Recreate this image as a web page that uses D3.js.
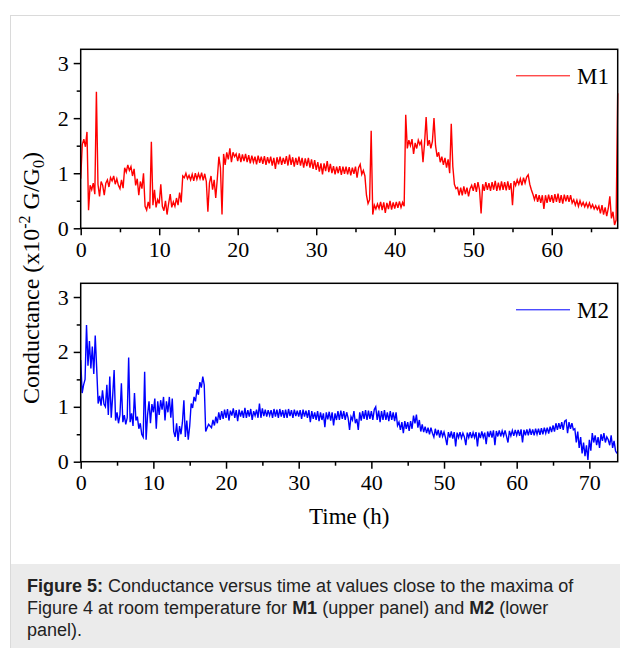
<!DOCTYPE html>
<html>
<head>
<meta charset="utf-8">
<script src="https://cdn.jsdelivr.net/npm/d3@7"></script>
<style>
  body { margin: 0; background: #fff; }
  svg { display: block; }
</style>
</head>
<body>
<svg id="fig"></svg>
<script>
// sampling interval of both recordings (hours)
var dt = 0.2;

// M1, upper panel (x10^-2 G/G0), one value every 0.2 h from t = 0
var m1Values = [
  0.9, 1.52, 1.62, 1.48, 1.75, 0.33, 0.78, 0.7, 0.82, 0.62,
  2.48, 0.8, 0.58, 0.85, 0.78, 0.6, 0.82, 0.88, 0.75, 0.92,
  0.86, 0.95, 0.8, 0.9, 0.78, 0.72, 0.88, 0.73, 1.1, 1.02,
  1.15, 1.05, 1.12, 0.95, 1.08, 0.78, 0.9, 0.6, 0.85, 0.72,
  1.0, 0.4, 0.33, 0.48, 0.36, 1.57, 0.42, 0.7, 0.38, 0.52,
  0.45, 0.8, 0.4, 0.32, 0.5, 0.25, 0.45, 0.62, 0.38, 0.48,
  0.4, 0.55, 0.42, 0.65, 0.47, 0.95, 0.92, 1.0, 0.9, 0.96,
  0.88, 0.98, 0.86, 1.0, 0.89, 0.99, 0.9, 1.01, 0.87, 0.99,
  0.85, 0.3, 0.82, 0.95, 0.7, 0.88, 0.55, 0.9, 1.3, 1.1,
  0.25, 1.35, 1.15, 1.38, 1.25, 1.45, 1.2, 1.38, 1.3, 1.35,
  1.22, 1.36, 1.2, 1.34, 1.22, 1.35, 1.2, 1.33, 1.18, 1.32,
  1.2, 1.3, 1.16, 1.32, 1.19, 1.3, 1.17, 1.31, 1.15, 1.29,
  1.18, 1.3, 1.14, 1.28, 1.08, 1.29, 1.16, 1.3, 1.15, 1.28,
  1.17, 1.31, 1.14, 1.34, 1.15, 1.29, 1.12, 1.28, 1.15, 1.3,
  1.14, 1.28, 1.1, 1.27, 1.13, 1.28, 1.1, 1.25, 1.08, 1.24,
  1.06, 1.2, 1.03, 1.18, 0.98, 1.18, 1.04, 1.22, 1.02, 1.17,
  1.0, 1.13, 0.98, 1.12, 1.0, 1.13, 0.97, 1.12, 0.99, 1.12,
  0.98, 1.11, 0.96, 1.1, 0.99, 1.12, 0.92, 1.1, 1.16, 0.98,
  1.05, 0.95, 0.6, 0.45, 0.52, 1.77, 0.25, 0.42, 0.35, 0.44,
  0.36, 0.48, 0.33, 0.47, 0.28, 0.46, 0.35, 0.5, 0.34, 0.47,
  0.36, 0.48, 0.37, 0.49, 0.38, 0.47, 0.4, 2.06, 1.45, 1.6,
  1.5, 1.62, 1.35, 1.55, 1.45, 1.6, 1.52, 1.58, 1.2, 1.55,
  2.02, 1.5, 1.6, 1.45, 1.58, 2.0, 1.5, 1.3, 1.38, 1.2,
  1.3, 1.15, 1.28, 1.1, 1.25, 1.0, 1.9, 1.12, 0.8, 0.72,
  0.74, 0.6, 0.74, 0.6, 0.76, 0.62, 0.74, 0.58, 0.72, 0.78,
  0.68, 0.82, 0.66, 0.84, 0.7, 0.27, 0.8, 0.68, 0.84, 0.7,
  0.82, 0.68, 0.84, 0.7, 0.86, 0.68, 0.83, 0.69, 0.85, 0.7,
  0.84, 0.69, 0.85, 0.7, 0.82, 0.42, 0.86, 0.78, 0.88, 0.8,
  0.9, 0.78, 0.92, 0.82, 0.93, 0.97, 0.8, 0.7, 0.62, 0.52,
  0.62, 0.48, 0.6, 0.46, 0.6, 0.35, 0.6, 0.46, 0.61, 0.48,
  0.6, 0.46, 0.62, 0.48, 0.63, 0.46, 0.6, 0.45, 0.61, 0.49,
  0.6, 0.48, 0.6, 0.46, 0.52, 0.42, 0.51, 0.4, 0.5, 0.41,
  0.47, 0.39, 0.46, 0.38, 0.46, 0.37, 0.43, 0.35, 0.41, 0.34,
  0.4, 0.27, 0.42, 0.25, 0.38, 0.22, 0.36, 0.58, 0.18, 0.3,
  0.06, 0.15, 2.45
];

// M2, lower panel
var m2Values = [
  1.85, 1.25, 1.4, 1.5, 2.49, 1.75, 2.2, 1.7, 2.1, 1.6,
  2.3, 1.7, 1.06, 1.2, 1.02, 1.3, 1.05, 1.0, 1.4, 0.85,
  1.55, 0.8, 1.2, 1.67, 0.75, 0.9, 0.7, 0.85, 1.43, 0.72,
  0.85, 0.68, 0.8, 1.9, 0.72, 0.88, 0.65, 1.25, 0.75, 0.82,
  0.6, 0.7, 0.5, 0.45, 1.64, 0.4, 0.85, 1.1, 0.7, 1.05,
  0.9, 1.15, 0.6, 1.1, 0.85, 1.12, 0.95, 1.18, 0.75, 1.1,
  0.9, 1.18, 0.8, 1.15, 0.55, 0.45, 0.7, 0.38, 0.65, 0.5,
  0.72, 1.12, 0.45, 0.75, 0.4, 0.65, 1.06, 0.98, 1.18, 1.1,
  1.32, 1.22, 1.45, 1.35, 1.55, 1.4, 0.55, 0.62, 0.68, 0.65,
  0.62, 0.76, 0.66, 0.82, 0.7, 0.9, 0.76, 0.92, 0.78, 0.95,
  0.8, 0.96, 0.75, 0.93, 0.84, 0.97, 0.8, 0.94, 0.74, 0.95,
  0.82, 0.93, 0.8, 0.98, 0.8, 0.94, 0.82, 0.96, 0.76, 0.92,
  0.84, 0.95, 0.8, 1.06, 0.8, 0.97, 0.83, 0.95, 0.82, 0.94,
  0.84, 0.94, 0.8, 0.96, 0.82, 0.95, 0.8, 0.96, 0.82, 0.94,
  0.8, 0.95, 0.8, 0.96, 0.83, 0.94, 0.8, 0.95, 0.83, 0.93,
  0.82, 0.94, 0.78, 0.95, 0.82, 0.93, 0.8, 0.94, 0.72, 0.92,
  0.78, 0.9, 0.76, 0.92, 0.74, 0.9, 0.76, 0.88, 0.63, 0.9,
  0.77, 0.91, 0.75, 0.9, 0.66, 0.88, 0.76, 0.92, 0.76, 0.93,
  0.78, 0.92, 0.76, 0.9, 0.8, 0.58, 0.82, 0.76, 0.92, 0.7,
  0.78, 0.58, 0.9, 0.75, 0.92, 0.78, 0.94, 0.76, 0.93, 0.78,
  0.92, 0.76, 0.95, 1.0, 0.76, 0.93, 0.72, 0.92, 0.76, 0.94,
  0.76, 0.9, 0.74, 0.92, 0.76, 0.9, 0.74, 0.9, 0.66, 0.72,
  0.58, 0.72, 0.52, 0.74, 0.6, 0.72, 0.56, 0.74, 0.6, 0.84,
  0.7, 0.86, 0.62, 0.76, 0.55, 0.68, 0.54, 0.64, 0.52, 0.62,
  0.5, 0.62, 0.52, 0.45, 0.6, 0.48, 0.58, 0.44, 0.57, 0.46,
  0.54, 0.44, 0.3, 0.54, 0.44, 0.55, 0.42, 0.54, 0.28, 0.53,
  0.44, 0.54, 0.43, 0.52, 0.45, 0.3, 0.53, 0.44, 0.54, 0.43,
  0.53, 0.44, 0.54, 0.28, 0.53, 0.43, 0.55, 0.44, 0.53, 0.32,
  0.55, 0.45, 0.56, 0.44, 0.57, 0.3, 0.56, 0.46, 0.57, 0.46,
  0.56, 0.47, 0.57, 0.46, 0.35, 0.56, 0.47, 0.57, 0.47, 0.58,
  0.48, 0.58, 0.47, 0.59, 0.35, 0.58, 0.48, 0.59, 0.48, 0.6,
  0.49, 0.59, 0.48, 0.6, 0.5, 0.6, 0.49, 0.61, 0.5, 0.62,
  0.52, 0.62, 0.51, 0.64, 0.54, 0.66, 0.55, 0.7, 0.58, 0.7,
  0.6, 0.72, 0.58, 0.74, 0.76, 0.52, 0.72, 0.6, 0.7, 0.58,
  0.6, 0.35, 0.55, 0.25, 0.45, 0.15, 0.35, 0.1, 0.3, 0.03,
  0.4, 0.2, 0.52, 0.35, 0.48, 0.3, 0.45, 0.25, 0.5, 0.38,
  0.52, 0.35, 0.45, 0.4, 0.3, 0.48, 0.25, 0.38, 0.2, 0.15
];

var m1Ticks = [0, 10, 20, 30, 40, 50, 60];
var m1Minor = [5, 15, 25, 35, 45, 55, 65];
var m2Ticks = [0, 10, 20, 30, 40, 50, 60, 70];
var m2Minor = [5, 15, 25, 35, 45, 55, 65];
var yTicks = [0, 1, 2, 3];
var yMinor = [0.5, 1.5, 2.5];

var width = 620, height = 648;
var left = 80.7, right = 617.7;
var serif = "'Liberation Serif', 'Times New Roman', serif";

var svg = d3.select("#fig").attr("width", width).attr("height", height);

// page frame + caption box
svg.append("rect").attr("x", 10.5).attr("y", 15.5).attr("width", 700).attr("height", 700)
    .attr("fill", "none").attr("stroke", "#dadada");
svg.append("rect").attr("x", 11).attr("y", 564).attr("width", 620).attr("height", 90)
    .attr("fill", "#ebebeb");

function drawPanel(values, xMax, ticks, minor, top, bottom, color, name) {
    var x = d3.scaleLinear().domain([0, xMax]).range([left, right]);
    var y = d3.scaleLinear().domain([0, 3.25]).range([bottom, top]);

    var g = svg.append("g");

    var line = d3.line()
        .x(function(d, i) { return x(i * dt); })
        .y(function(d) { return y(d); });

    g.append("path")
        .datum(values)
        .attr("d", line)
        .attr("fill", "none")
        .attr("stroke", color)
        .attr("stroke-width", 1.4)
        .attr("stroke-linejoin", "miter");

    // x axis
    g.append("g").attr("transform", "translate(0," + bottom + ")")
        .call(d3.axisBottom(x).tickValues(ticks).tickSize(7).tickPadding(6));
    g.append("g").attr("transform", "translate(0," + bottom + ")")
        .call(d3.axisBottom(x).tickValues(minor).tickSize(4).tickFormat(""));
    // y axis
    g.append("g").attr("transform", "translate(" + left + ",0)")
        .call(d3.axisLeft(y).tickValues(yTicks).tickSize(7).tickPadding(5)
            .tickFormat(d3.format("d")));
    g.append("g").attr("transform", "translate(" + left + ",0)")
        .call(d3.axisLeft(y).tickValues(yMinor).tickSize(4).tickFormat(""));

    g.selectAll(".domain").remove();
    g.selectAll(".tick line").attr("stroke", "#000").attr("stroke-width", 1.5);
    g.selectAll(".tick text").attr("fill", "#000")
        .style("font-family", serif).style("font-size", "22px");

    // frame
    g.append("rect").attr("x", left).attr("y", top)
        .attr("width", right - left).attr("height", bottom - top)
        .attr("fill", "none").attr("stroke", "#000").attr("stroke-width", 1.5);

    // legend
    g.append("line").attr("x1", 516).attr("x2", 570)
        .attr("y1", top + 26.5).attr("y2", top + 26.5)
        .attr("stroke", color).attr("stroke-width", 1);
    g.append("text").attr("x", 577).attr("y", top + 35)
        .style("font-family", serif).style("font-size", "23px")
        .text(name);
}

drawPanel(m1Values, 68.4, m1Ticks, m1Minor, 49.3, 228.3, "#ff0000", "M1");
drawPanel(m2Values, 73.9, m2Ticks, m2Minor, 283.3, 461.7, "#0000ff", "M2");

// axis titles
var yLab = svg.append("text")
    .attr("transform", "translate(39,278) rotate(-90)")
    .attr("text-anchor", "middle")
    .style("font-family", serif).style("font-size", "24px");
yLab.append("tspan").text("Conductance (x10");
yLab.append("tspan").attr("dy", -9).style("font-size", "16px").text("-2");
yLab.append("tspan").attr("dy", 9).text(" G/G");
yLab.append("tspan").attr("dy", 5).style("font-size", "16px").text("0");
yLab.append("tspan").attr("dy", -5).text(")");

svg.append("text").attr("x", (left + right) / 2).attr("y", 524)
    .attr("text-anchor", "middle")
    .style("font-family", serif).style("font-size", "23px")
    .text("Time (h)");

// caption
var capLines = [
    [["Figure 5:", true], [" Conductance versus time at values close to the maxima of", false]],
    [["Figure 4 at room temperature for ", false], ["M1", true], [" (upper panel) and ", false], ["M2", true], [" (lower", false]],
    [["panel).", false]]
];
var cap = svg.append("g").style("font-family", "'Liberation Sans', Arial, sans-serif")
    .style("font-size", "18px").attr("fill", "#222");
capLines.forEach(function(parts, i) {
    var t = cap.append("text").attr("x", 27).attr("y", 592 + i * 22);
    parts.forEach(function(p) {
        t.append("tspan").style("font-weight", p[1] ? "bold" : "normal").text(p[0]);
    });
});
</script>
</body>
</html>
